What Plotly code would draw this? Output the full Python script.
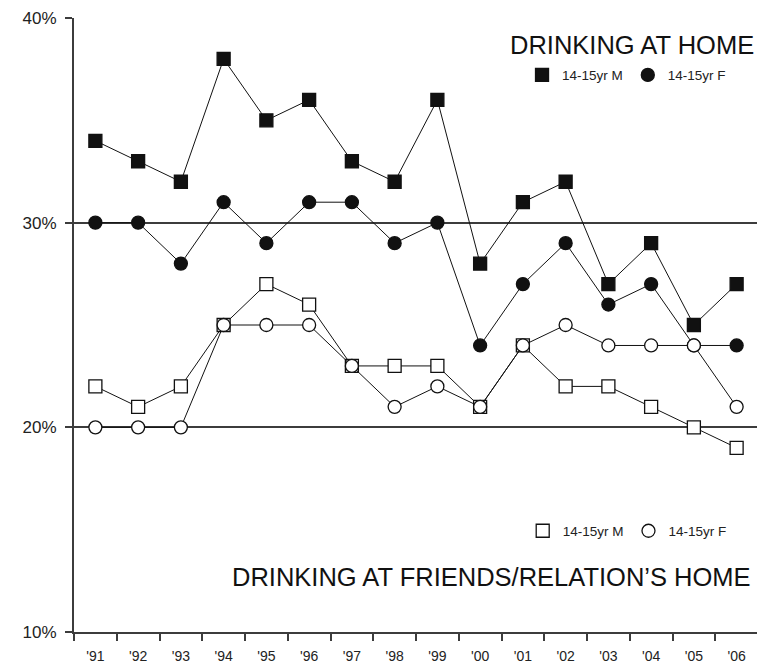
import plotly.graph_objects as go

years = ["'91", "'92", "'93", "'94", "'95", "'96", "'97", "'98",
         "'99", "'00", "'01", "'02", "'03", "'04", "'05", "'06"]
home_m = [34, 33, 32, 38, 35, 36, 33, 32, 36, 28, 31, 32, 27, 29, 25, 27]
home_f = [30, 30, 28, 31, 29, 31, 31, 29, 30, 24, 27, 29, 26, 27, 24, 24]
friends_m = [22, 21, 22, 25, 27, 26, 23, 23, 23, 21, 24, 22, 22, 21, 20, 19]
friends_f = [20, 20, 20, 25, 25, 25, 23, 21, 22, 21, 24, 25, 24, 24, 24, 21]
legend_label_m = "14-15yr M"
legend_label_f = "14-15yr F"
title_home = "DRINKING AT HOME"
title_friends = "DRINKING AT FRIENDS/RELATION\u2019S HOME"

REG = "Liberation Sans, Arial, sans-serif"
AX = "#3c3c3c"
DARK = "#111111"

fig = go.Figure()

def add_series(y, symbol, filled):
    fill = DARK if filled else "white"
    fig.add_trace(go.Scatter(
        x=years, y=y, mode="lines+markers", showlegend=False,
        line=dict(color=DARK, width=1),
        marker=dict(symbol=symbol, size=13, color=fill,
                    line=dict(color=DARK, width=1.3)),
        cliponaxis=False,
    ))

add_series(home_m, "square", True)
add_series(home_f, "circle", True)
add_series(friends_m, "square", False)
add_series(friends_f, "circle", False)

# legend-only marker entries
for name, sym, filled, leg in [
    (legend_label_m, "square", True, "legend"),
    (legend_label_f, "circle", True, "legend"),
    (legend_label_m, "square", False, "legend2"),
    (legend_label_f, "circle", False, "legend2"),
]:
    fig.add_trace(go.Scatter(
        x=[None], y=[None], mode="markers", name=name, legend=leg,
        marker=dict(symbol=sym, size=13, color=DARK if filled else "white",
                    line=dict(color=DARK, width=1.3)),
    ))

fig.update_layout(
    width=757, height=664,
    margin=dict(l=66, r=7, t=10, b=40, autoexpand=False),
    paper_bgcolor="white", plot_bgcolor="white",
    showlegend=True,
    legend=dict(orientation="h", x=0.655, y=0.907, xanchor="left", yanchor="middle",
                font=dict(family=REG, size=13.5, color="#222"),
                bgcolor="rgba(0,0,0,0)", itemclick=False, itemdoubleclick=False),
    legend2=dict(orientation="h", x=0.656, y=0.1645, xanchor="left", yanchor="middle",
                 font=dict(family=REG, size=13.5, color="#222"),
                 bgcolor="rgba(0,0,0,0)", itemclick=False, itemdoubleclick=False),
    annotations=[
        dict(text=title_home, xref="paper", yref="paper", x=0.997, y=0.956,
             xanchor="right", yanchor="middle", showarrow=False,
             font=dict(family=REG, size=25.5, color="#111")),
        dict(text=title_friends, xref="paper", yref="paper", x=0.993, y=0.0896,
             xanchor="right", yanchor="middle", showarrow=False,
             font=dict(family=REG, size=25.5, color="#111")),
    ],
)

fig.update_xaxes(
    type="category", range=[-0.5, 15.5], tickson="boundaries",
    ticks="outside", ticklen=7, tickwidth=2, tickcolor=AX,
    showline=True, linecolor=AX, linewidth=2, showgrid=False, zeroline=False,
    tickfont=dict(family=REG, size=14, color="#222"), ticklabelstandoff=10,
    automargin=False,
)
fig.update_yaxes(
    range=[10, 40], dtick=10, tick0=10, ticksuffix="%",
    ticks="outside", ticklen=7, tickwidth=2, tickcolor=AX,
    showline=True, linecolor=AX, linewidth=2,
    showgrid=True, gridcolor=AX, gridwidth=2, zeroline=False,
    tickfont=dict(family=REG, size=17, color="#222"), ticklabelstandoff=5,
    automargin=False,
)

fig.write_html("out.html")
